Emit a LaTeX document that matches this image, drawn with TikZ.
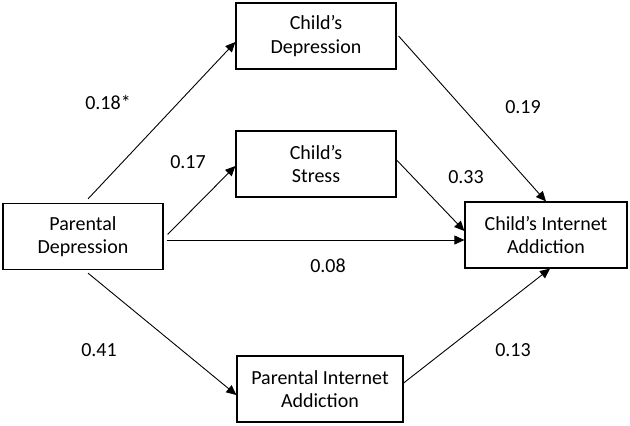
\documentclass[tikz,border=0pt]{standalone}
\usepackage{fontspec}
\setmainfont{Carlito}
\usetikzlibrary{arrows.meta}

\tikzset{
    varbox/.style={draw, line width=0.6pt, minimum width=80pt, minimum height=33pt,
        inner sep=0pt, align=center, font=\fontsize{10}{11.75}\selectfont},
    coef/.style={inner sep=0pt, font=\fontsize{10}{11.75}\selectfont},
    path/.style={line width=0.45pt, -{Triangle[length=5pt,width=4.5pt]}}
}

\begin{document}
\begin{tikzpicture}[x=0.5pt,y=-0.5pt]

        \useasboundingbox (0,0) rectangle (630,425);

        \node[varbox] (pd)  at (83,236.5) {Parental\\Depression};
        \node[varbox] (cd)  at (316,36)   {Child’s\\Depression};
        \node[varbox] (cs)  at (316,164)  {Child’s\\Stress};
        \node[varbox, minimum width=81pt] (cia) at (546,235) {Child’s Internet\\Addiction};
        \node[varbox, minimum width=83pt] (pia) at (320,389) {Parental Internet\\Addiction};

        \draw[path] ([xshift=2.5pt,yshift=2pt]pd.north) -- ([yshift=-3pt]cd.west);
        \draw[path] ([xshift=2pt,yshift=1pt]pd.east) -- ([yshift=-1pt]cs.west);
        \draw[path] ([xshift=1.5pt,yshift=-1.75pt]pd.east) -- ([yshift=-2.5pt]cia.west);
        \draw[path] ([yshift=2pt]cs.east) -- ([yshift=2pt]cia.west);
        \draw[path] ([xshift=1pt]cd.east) -- (cia.north);
        \draw[path] ([xshift=2.5pt,yshift=-1.5pt]pd.south) -- ([yshift=-3pt]pia.west);
        \draw[path] ([yshift=3pt]pia.east) -- ([xshift=2pt]cia.south);

        \node[coef] (b1) at (108,102) {0.18*};
        \node[coef] (b2) at (188,162) {0.17};
        \node[coef] (b3) at (523,107) {0.19};
        \node[coef] (b4) at (466,177) {0.33};
        \node[coef] (b5) at (328,266) {0.08};
        \node[coef] (b6) at (99,350)  {0.41};
        \node[coef] (b7) at (513,350) {0.13};

\end{tikzpicture}
\end{document}
